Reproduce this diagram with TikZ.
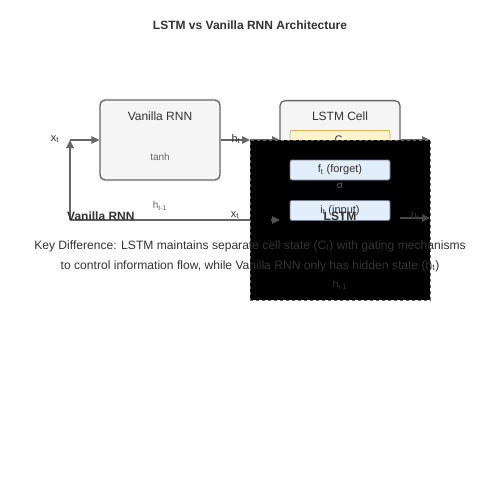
\documentclass[tikz,border=0pt]{standalone}
\usepackage{fontspec}
\setmainfont{Liberation Sans}
\usetikzlibrary{arrows.meta}
\definecolor{txt}{HTML}{333333}
\definecolor{edge}{HTML}{666666}
\definecolor{boxfill}{HTML}{F5F5F5}
\definecolor{cfill}{HTML}{FFF2CC}
\definecolor{cdraw}{HTML}{D6B656}
\definecolor{gfill}{HTML}{E3EEFB}
\definecolor{gdraw}{HTML}{6C7A8A}
\tikzset{
  cellbox/.style={draw=edge, line width=1.3pt, fill=boxfill, rounded corners=5pt, inner sep=0pt},
  gatebox/.style={draw=gdraw, line width=0.9pt, fill=gfill, rounded corners=2pt, minimum width=100pt, minimum height=20pt, inner sep=0pt, font=\fontsize{11}{13}\selectfont, text=txt},
  statebox/.style={draw=cdraw, line width=0.9pt, fill=cfill, rounded corners=2pt, minimum width=100pt, minimum height=20pt, inner sep=0pt, font=\fontsize{11}{13}\selectfont, text=txt},
  conn/.style={draw=edge, line width=1.3pt, -{Triangle[length=8pt,width=7.5pt]}},
  plainline/.style={draw=edge, line width=1.3pt},
  lbl/.style={font=\fontsize{11}{13}\selectfont, text=txt, inner sep=0pt},
  small/.style={font=\fontsize{10}{12}\selectfont, text=edge, inner sep=0pt},
}
\begin{document}
\begin{tikzpicture}[x=1pt,y=-1pt]
\useasboundingbox (0,0) rectangle (500,500);
\fill[white] (0,0) rectangle (500,500);
% title
\node[font=\bfseries\fontsize{12}{14}\selectfont, text=txt] (title) at (250,25) {LSTM vs Vanilla RNN Architecture};
% Vanilla RNN box
\node[cellbox, minimum width=120pt, minimum height=80pt] (rnn) at (160,140) {};
\node[font=\fontsize{12}{14}\selectfont, text=txt, inner sep=0pt] (rnnlbl) at (160,116) {Vanilla RNN};
\node[small] (tanh) at (160,157) {tanh};
% LSTM cell box
\node[cellbox, minimum width=120pt, minimum height=110pt, anchor=north] (lstm) at (340,100) {};
\node[font=\fontsize{12}{14}\selectfont, text=txt, inner sep=0pt] (lstmlbl) at (340,116) {LSTM Cell};
\node[statebox, anchor=north] (cstate) at (340,130) {C\textsubscript{t}};
% input and recurrence
\coordinate (xin) at (70,140);
\coordinate (loopbot) at (70,220);
\coordinate (loopright) at (250,220);
\node[lbl] (xt) at (55,139) {x\textsubscript{t}};
\draw[conn] (xin) -- (rnn.west);
\draw[plainline] (loopright) -- (loopbot);
\draw[conn] (loopbot) -- (xin);
\node[small] (hprev) at (160,206) {h\textsubscript{t-1}};
\node[font=\bfseries\fontsize{12}{14}\selectfont, text=txt, inner sep=0pt, anchor=base west] (rnnleg) at (67,220) {Vanilla RNN};
% output of RNN
\coordinate (mid) at (250,140);
\coordinate (lstmin) at (280,140);
\coordinate (lstmout) at (430,140);
\draw[conn] (rnn.east) -- (mid);
\draw[conn] (mid) -- (lstmin);
\draw[conn] (lstm.east |- lstmout) -- (lstmout);
\node[lbl] (ht) at (236,139) {h\textsubscript{t}};
\node[lbl] (xt2) at (235,215) {x\textsubscript{t}};
% overlay rectangle
\node[draw=edge, dashed, line width=0.8pt, fill=black, minimum width=180pt, minimum height=160pt, anchor=north west, inner sep=0pt] (overlay) at (250,140) {};
% gates
\node[gatebox] (forget) at (340,170) {f\textsubscript{t} (forget)};
\node[small] (sigma) at (340,186) {σ};
\node[gatebox, anchor=north] (input) at (340,200) {i\textsubscript{t} (input)};
\coordinate (lx) at (280,220);
\coordinate (lxs) at (271,220);
\coordinate (ly) at (430,218);
\coordinate (lys) at (400,218);
\draw[conn, draw=edge!80!black] (lxs) -- (lx);
\draw[conn, draw=edge!70!black] (lys) -- (ly);
\node[font=\bfseries\fontsize{12}{14}\selectfont, text=txt, inner sep=0pt] (lstmleg) at (340,216) {LSTM};
\node[small, text=txt] (ht2) at (415,216) {h\textsubscript{t}};
% caption
\node[lbl, font=\fontsize{12.1}{14}\selectfont, align=center] (cap1) at (250,246) {Key Difference: LSTM maintains separate cell state (C\textsubscript{t}) with gating mechanisms};
\node[lbl, font=\fontsize{12.1}{14}\selectfont, align=center] (cap2) at (250,266) {to control information flow, while Vanilla RNN only has hidden state (h\textsubscript{t})};
\node[small, text=txt] (hprev2) at (340,285) {h\textsubscript{t-1}};
\end{tikzpicture}
\end{document}
